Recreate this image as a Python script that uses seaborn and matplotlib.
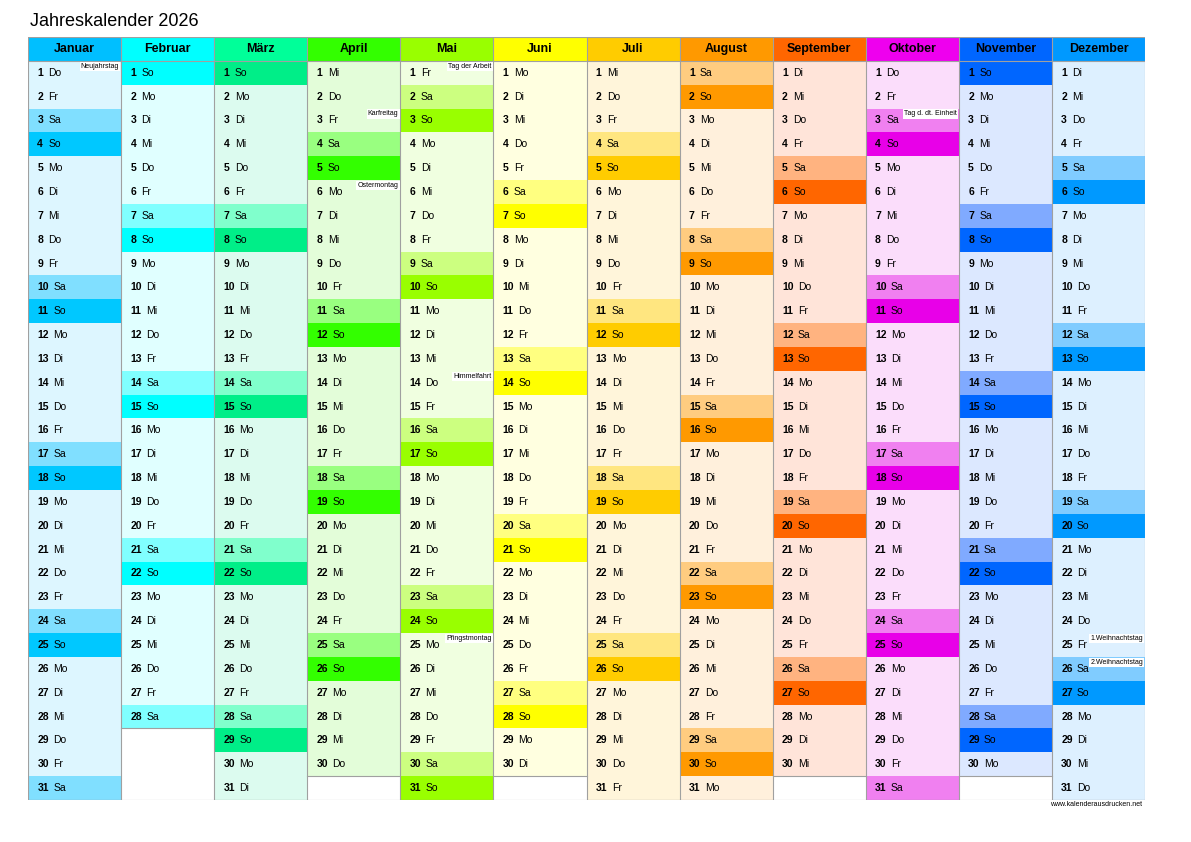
import datetime
import numpy as np
import matplotlib
matplotlib.use("Agg")
import matplotlib.pyplot as plt
from matplotlib.colors import ListedColormap
import seaborn as sns

YEAR = 2026
months = ["Januar", "Februar", "März", "April", "Mai", "Juni", "Juli",
          "August", "September", "Oktober", "November", "Dezember"]
days_in_month = [31, 28, 31, 30, 31, 30, 31, 31, 30, 31, 30, 31]
weekday_names = ["Mo", "Di", "Mi", "Do", "Fr", "Sa", "So"]
holiday_dates = [(1, 1), (4, 3), (4, 6), (5, 1), (5, 14), (5, 25), (10, 3), (12, 25), (12, 26)]
holiday_names = ["Neujahrstag", "Karfreitag", "Ostermontag", "Tag der Arbeit", "Himmelfahrt",
                 "Pfingstmontag", "Tag d. dt. Einheit", "1.Weihnachtstag", "2.Weihnachtstag"]
weekday_colors = ["#DDF6FF", "#E0FFFF", "#DCFBEF", "#E3FDD9", "#F0FFE0", "#FFFFE0",
                  "#FFF5DA", "#FFF0DC", "#FFE4D9", "#FBDDFB", "#DCE8FF", "#DDF0FF"]
saturday_colors = ["#80DFFF", "#80FFFF", "#80FFCC", "#99FF80", "#CCFF80", "#FFFF80",
                   "#FFE680", "#FFCC80", "#FFB380", "#F080F0", "#80AAFF", "#80CCFF"]
sunday_colors = ["#00C8FF", "#00FFFF", "#00EE88", "#33FF00", "#99FF00", "#FFFF00",
                 "#FFCC00", "#FF9900", "#FF6600", "#E800E8", "#0066FF", "#0099FF"]
header_colors = ["#00BFFF", "#00FFFF", "#00FF99", "#33FF00", "#99FF00", "#FFFF00",
                 "#FFCC00", "#FF9900", "#FF6600", "#EE00EE", "#0066FF", "#0099FF"]

plt.rcParams["font.family"] = ["Liberation Sans", "DejaVu Sans"]

palette = []
for m in range(12):
    palette += [weekday_colors[m], saturday_colors[m], sunday_colors[m], header_colors[m]]
cmap = ListedColormap(palette)

codes = np.full((32, 12), np.nan)
for m in range(12):
    codes[0, m] = m * 4 + 3
    for d in range(1, days_in_month[m] + 1):
        wd = datetime.date(YEAR, m + 1, d).weekday()
        t = 1 if wd == 5 else (2 if wd == 6 else 0)
        codes[d, m] = m * 4 + t

fig = plt.figure(figsize=(11.91, 8.42), dpi=100)
ax = fig.add_axes([28 / 1191, 1 - 800 / 842, (1145 - 28) / 1191, (800 - 37) / 842])
sns.heatmap(codes, ax=ax, cmap=cmap, vmin=-0.5, vmax=47.5, cbar=False,
            xticklabels=False, yticklabels=False, linewidths=0)
ax.set_xlim(0, 12)
ax.set_ylim(32, 0)

for m in range(12):
    ax.text(m + 0.5, 0.5, months[m], ha="center", va="center", fontsize=9, fontweight="bold")
    for d in range(1, days_in_month[m] + 1):
        wd = datetime.date(YEAR, m + 1, d).weekday()
        ax.text(m + 0.1, d + 0.5, str(d), ha="left", va="center", fontsize=7.5, fontweight="bold")
        ax.text(m + 0.22 if d < 10 else m + 0.27, d + 0.5, weekday_names[wd],
                ha="left", va="center", fontsize=7.5)

for (mo, dy), name in zip(holiday_dates, holiday_names):
    ax.text(mo - 1 + 0.98, dy + 0.08, name, ha="right", va="top", fontsize=5,
            bbox=dict(facecolor="white", edgecolor="none", pad=0.8))

for x in range(13):
    ax.axvline(x, color="#A0A0A0", lw=0.8)
ax.axhline(0, color="#A0A0A0", lw=0.8)
ax.axhline(1, color="#A0A0A0", lw=0.8)
ax.axhline(32, color="#A0A0A0", lw=0.8)
for m in range(12):
    ax.plot([m, m + 1], [days_in_month[m] + 1] * 2, color="#A0A0A0", lw=0.8)

fig.text(30 / 1191, 1 - 22 / 842, "Jahreskalender 2026", fontsize=13, ha="left", va="center")
fig.text(1142 / 1191, 1 - 805 / 842, "www.kalenderausdrucken.net", fontsize=5, ha="right", va="center")
fig.savefig("out.png", dpi=100)
